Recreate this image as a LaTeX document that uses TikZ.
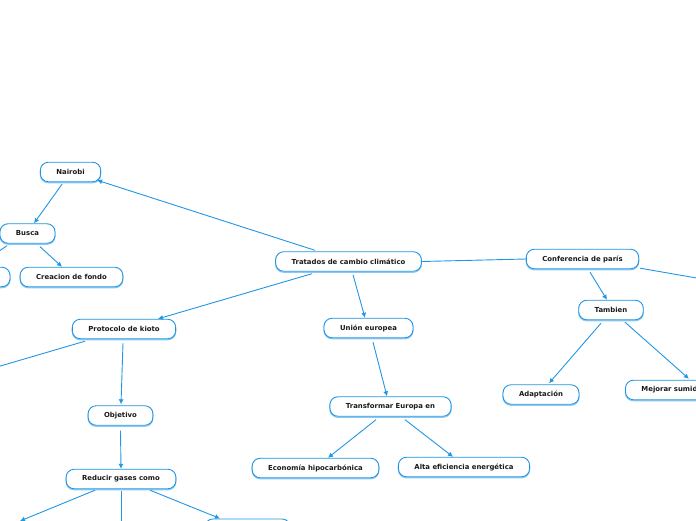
\documentclass[tikz,border=0pt]{standalone}
\usepackage{fontspec}
\setmainfont{DejaVu Sans}
\usepackage{tikz}
\usetikzlibrary{positioning, calc, arrows.meta}
\definecolor{MapBlue}{HTML}{2196E3}
\definecolor{MapShade}{HTML}{8CC8F0}
\definecolor{Ink}{HTML}{1A1A1A}

\tikzset{
  topic/.style={draw=MapBlue, line width=0.9pt, fill=white, rounded corners=8pt,
    minimum height=19.5pt, inner xsep=16pt, inner ysep=0pt, text=Ink,
    font=\fontsize{6.9}{8}\selectfont\bfseries,
    preaction={draw=MapShade, line width=1.2pt, transform canvas={yshift=-1pt}}},
  hidden/.style={topic, minimum width=#1},
  link/.style={draw=MapBlue, line width=0.9pt},
  arrowlink/.style={link, -{Latex[length=5pt,width=5pt]}}
}

\begin{document}
\begin{tikzpicture}[x=1pt, y=-1pt]
\useasboundingbox (0,0) rectangle (696,520);
\clip (0,0) rectangle (696,520);

% centre
\node[topic] (tratados) at (348.5,261.5) {Tratados de cambio climático};

% Nairobi branch
\node[topic] (nairobi) at (70.5,172) {Nairobi};
\node[topic] (busca) at (27.5,233.5) {Busca};
\node[topic] (creacion) at (71.5,277) {Creacion de fondo};
\node[hidden=100pt] (lejos) at (-40,277) {};

% Kioto branch
\node[topic] (protocolo) at (124,329) {Protocolo de kioto};
\coordinate (kioto-rest) at (-85,391);
\node[topic] (objetivo) at (120.5,415.5) {Objetivo};
\node[topic] (reducir) at (121,479) {Reducir gases como};
\node[hidden=90pt, anchor=north] (gas-a) at (0,521) {};
\node[hidden=90pt, anchor=north] (gas-b) at (121,526) {};
\node[hidden=85pt, anchor=north] (gas-c) at (247.5,518.5) {};

% Union europea branch
\node[topic] (union) at (368.5,328) {Unión europea};
\node[topic] (transformar) at (390.5,406.5) {Transformar Europa en};
\node[topic] (economia) at (315.5,468) {Economía hipocarbónica};
\node[topic] (alta) at (464,467) {Alta eficiencia energética};

% Paris branch
\node[topic] (paris) at (582.5,259) {Conferencia de parís};
\coordinate (paris-rest) at (760,289);
\node[topic] (tambien) at (611,310) {Tambien};
\node[topic] (adaptacion) at (541,394.5) {Adaptación};
\node[topic, anchor=west] (mejorar) at (625,390) {Mejorar sumideros};

% connectors
\draw[arrowlink] ([xshift=-33.5pt,yshift=1pt]tratados.north) -- ([xshift=-4pt,yshift=2pt]nairobi.south east);
\draw[arrowlink] ([xshift=-8.5pt,yshift=-2pt]nairobi.south) -- ([xshift=6.5pt]busca.north);
\draw[arrowlink] ([xshift=12.5pt,yshift=-3pt]busca.south) -- ([xshift=-9.5pt]creacion.north);
\draw[arrowlink] ([xshift=-20.5pt,yshift=-2pt]busca.south) -- ([xshift=16pt]lejos.north);

\draw[arrowlink] ([xshift=-36.5pt,yshift=-2pt]tratados.south) -- ([xshift=34pt]protocolo.north);
\draw[link] ([xshift=-39pt,yshift=-2pt]protocolo.south) -- (kioto-rest);
\draw[arrowlink] ([xshift=-1pt,yshift=-4pt]protocolo.south) -- ([xshift=0.5pt,yshift=1pt]objetivo.north);
\draw[arrowlink] ([yshift=-5pt]objetivo.south) -- (reducir.north);
\draw[arrowlink] ([xshift=-26pt,yshift=-1pt]reducir.south) -- ([xshift=20pt]gas-a.north);
\draw[arrowlink] ([yshift=-2pt]reducir.south) -- (gas-b.north);
\draw[arrowlink] ([xshift=29pt,yshift=-1pt]reducir.south) -- ([xshift=-27.5pt]gas-c.north);

\draw[arrowlink] ([xshift=4.5pt,yshift=-3pt]tratados.south) -- ([xshift=-3.5pt]union.north);
\draw[arrowlink] ([xshift=4.5pt,yshift=-4pt]union.south) -- ([xshift=-3.5pt]transformar.north);
\draw[arrowlink] ([xshift=-14.5pt,yshift=-3pt]transformar.south) -- ([xshift=12.5pt]economia.north);
\draw[arrowlink] ([xshift=14.5pt,yshift=-3pt]transformar.south) -- ([xshift=-11pt]alta.north);

\draw[link] (tratados.east) -- (paris.west);
\draw[arrowlink] ([xshift=7.5pt,yshift=-3pt]paris.south) -- ([xshift=-4pt]tambien.north);
\draw[link] ([xshift=1pt,yshift=1pt]paris.south east) -- (paris-rest);
\draw[arrowlink] ([xshift=-10pt,yshift=-3pt]tambien.south) -- ([xshift=8pt,yshift=1pt]adaptacion.north);
\draw[arrowlink] ([xshift=14pt,yshift=-2pt]tambien.south) -- ([xshift=11pt,yshift=1pt]mejorar.north);
\end{tikzpicture}
\end{document}
